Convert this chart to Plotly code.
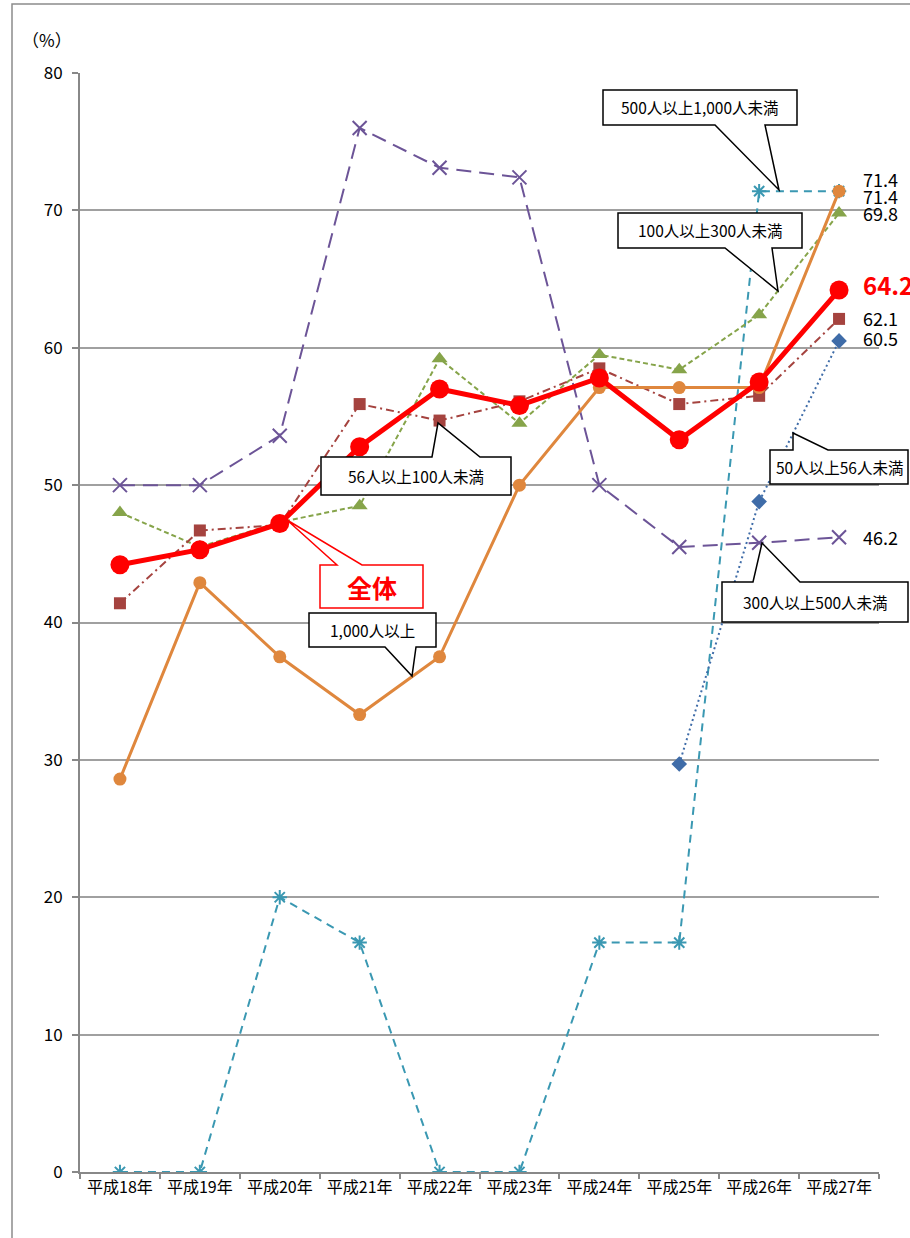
import plotly.graph_objects as go

# ---- data -------------------------------------------------------------
years = ["平成18年", "平成19年", "平成20年", "平成21年", "平成22年",
         "平成23年", "平成24年", "平成25年", "平成26年", "平成27年"]

total = [44.2, 45.3, 47.2, 52.8, 57.0, 55.8, 57.8, 53.3, 57.5, 64.2]            # 全体
over_1000 = [28.6, 42.9, 37.5, 33.3, 37.5, 50.0, 57.1, 57.1, 57.1, 71.4]        # 1,000人以上
s500_1000 = [0.0, 0.0, 20.0, 16.7, 0.0, 0.0, 16.7, 16.7, 71.4, 71.4]            # 500人以上1,000人未満
s300_500 = [50.0, 50.0, 53.6, 76.0, 73.1, 72.4, 50.0, 45.5, 45.8, 46.2]         # 300人以上500人未満
s100_300 = [48.0, 45.5, 47.3, 48.5, 59.2, 54.5, 59.5, 58.4, 62.4, 69.8]         # 100人以上300人未満
s56_100 = [41.4, 46.7, 47.1, 55.9, 54.7, 56.1, 58.5, 55.9, 56.5, 62.1]          # 56人以上100人未満
s50_56 = [None, None, None, None, None, None, None, 29.7, 48.8, 60.5]           # 50人以上56人未満

y_ticks = [0, 10, 20, 30, 40, 50, 60, 70, 80]

FONT = "Noto Sans CJK JP"

# ---- page geometry (pixels) -------------------------------------------
W, H = 910, 1238
ML, MR, MT, MB = 80, 31, 73, 66
PW, PH = W - ML - MR, H - MT - MB


def paper(x, y):
    """Convert a page pixel position to paper coordinates."""
    return (x - ML) / PW, (H - MB - y) / PH


fig = go.Figure()


def add_series(values, name, color, width, dash, symbol, size, mline=0):
    fig.add_trace(go.Scatter(
        x=years, y=values, name=name, mode="lines+markers",
        line=dict(color=color, width=width, dash=dash),
        marker=dict(symbol=symbol, size=size, color=color,
                    line=dict(color=color, width=mline)),
        connectgaps=False, showlegend=False,
    ))


add_series(s500_1000, "500人以上1,000人未満", "#3A98B2", 2, "8px,6px", "asterisk-open", 12, 2)
add_series(s300_500, "300人以上500人未満", "#6C5497", 2, "15px,8px", "x-thin-open", 14, 2)
add_series(s50_56, "50人以上56人未満", "#3F6CA8", 2, "2px,3px", "diamond", 12)
add_series(s100_300, "100人以上300人未満", "#86A44A", 2, "5px,3px", "triangle-up", 14)
add_series(s56_100, "56人以上100人未満", "#A5433F", 2, "8px,4px,2px,4px", "square", 12)
add_series(over_1000, "1,000人以上", "#DF873D", 3, "solid", "circle", 13)
add_series(total, "全体", "#FF0000", 5, "solid", "circle", 19)

# ---- end-of-line value labels -------------------------------------------
end_labels = [
    (s500_1000[-1], 12, dict(size=18, color="black")),
    (over_1000[-1], -5, dict(size=18, color="black")),
    (s100_300[-1], 0, dict(size=18, color="black")),
    (total[-1], 6, dict(size=24, color="#FF0000", weight="bold")),
    (s56_100[-1], 1, dict(size=18, color="black")),
    (s50_56[-1], 3, dict(size=18, color="black")),
    (s300_500[-1], 0, dict(size=18, color="black")),
]
annotations = []
for val, dy, f in end_labels:
    annotations.append(dict(
        x=years[-1], y=val, xref="x", yref="y", text=f"{val:.1f}",
        showarrow=False, xanchor="left", yanchor="middle",
        xshift=22, yshift=dy, font=dict(family=FONT, **f),
    ))

# ---- callout boxes -------------------------------------------------------
shapes = []


def callout(box, base, tip, edge, text, color="black", fsize=15.5, bold=False):
    x0, y0, x1, y1 = box
    b1, b2 = base
    if edge == "bottom":
        pts = [(x0, y0), (x1, y0), (x1, y1), (b2, y1), tip, (b1, y1), (x0, y1)]
    else:
        pts = [(x0, y0), (b1, y0), tip, (b2, y0), (x1, y0), (x1, y1), (x0, y1)]
    path = "M " + " L ".join("{:.5f},{:.5f}".format(*paper(*p)) for p in pts) + " Z"
    shapes.append(dict(type="path", xref="paper", yref="paper", path=path,
                       fillcolor="white", line=dict(color=color, width=1.5),
                       layer="above"))
    cx, cy = paper((x0 + x1) / 2, (y0 + y1) / 2)
    annotations.append(dict(
        x=cx, y=cy, xref="paper", yref="paper", text=text, showarrow=False,
        xanchor="center", yanchor="middle",
        font=dict(family=FONT, size=fsize, color=color,
                  weight="bold" if bold else "normal"),
    ))


callout((603, 90, 797, 125), (715, 765), (779, 190), "bottom", "500人以上1,000人未満")
callout((618, 213, 802, 248), (725, 772), (778, 291), "bottom", "100人以上300人未満")
callout((770, 450, 908, 484), (793, 828), (793, 433), "top", "50人以上56人未満")
callout((722, 582, 908, 622), (753, 800), (762, 543), "top", "300人以上500人未満")
callout((321, 457, 511, 495), (432, 480), (438, 423), "top", "56人以上100人未満")
callout((320, 565, 423, 608), (337, 362), (287, 520), "top", "全体",
        color="#FF0000", fsize=25, bold=True)
callout((309, 613, 436, 647), (385, 416), (412, 676), "bottom", "1,000人以上")

# unit label
ux, uy = paper(47, 40)
annotations.append(dict(x=ux, y=uy, xref="paper", yref="paper", text="（%）",
                        showarrow=False, xanchor="center", yanchor="middle",
                        font=dict(family=FONT, size=17, color="black")))

# chart-area frame
fx0, fy0 = paper(12, 4)
fx1, fy1 = paper(W + 10, H + 10)
shapes.append(dict(type="rect", xref="paper", yref="paper",
                   x0=fx0, y0=fy1, x1=fx1, y1=fy0,
                   line=dict(color="#8C8C8C", width=1.5), layer="below"))

fig.update_layout(
    width=W, height=H,
    margin=dict(l=ML, r=MR, t=MT, b=MB),
    paper_bgcolor="white", plot_bgcolor="white",
    font=dict(family=FONT, color="black"),
    annotations=annotations, shapes=shapes,
    xaxis=dict(
        type="category", categoryorder="array", categoryarray=years,
        range=[-0.5, 9.5], tickson="boundaries", ticks="outside",
        ticklen=5, tickcolor="#888888", tickwidth=1.5,
        showline=True, linecolor="#888888", linewidth=2,
        showgrid=False, zeroline=False,
        tickfont=dict(family=FONT, size=16, color="black"),
    ),
    yaxis=dict(
        range=[0, 80], tickvals=y_ticks, ticks="outside", ticklen=6,
        tickcolor="#888888", tickwidth=1.5,
        showline=True, linecolor="#888888", linewidth=2,
        showgrid=True, gridcolor="#A0A0A0", gridwidth=1.5, zeroline=False,
        tickfont=dict(family=FONT, size=17, color="black"),
        ticklabelstandoff=6,
    ),
)

fig.write_html("out.html")
